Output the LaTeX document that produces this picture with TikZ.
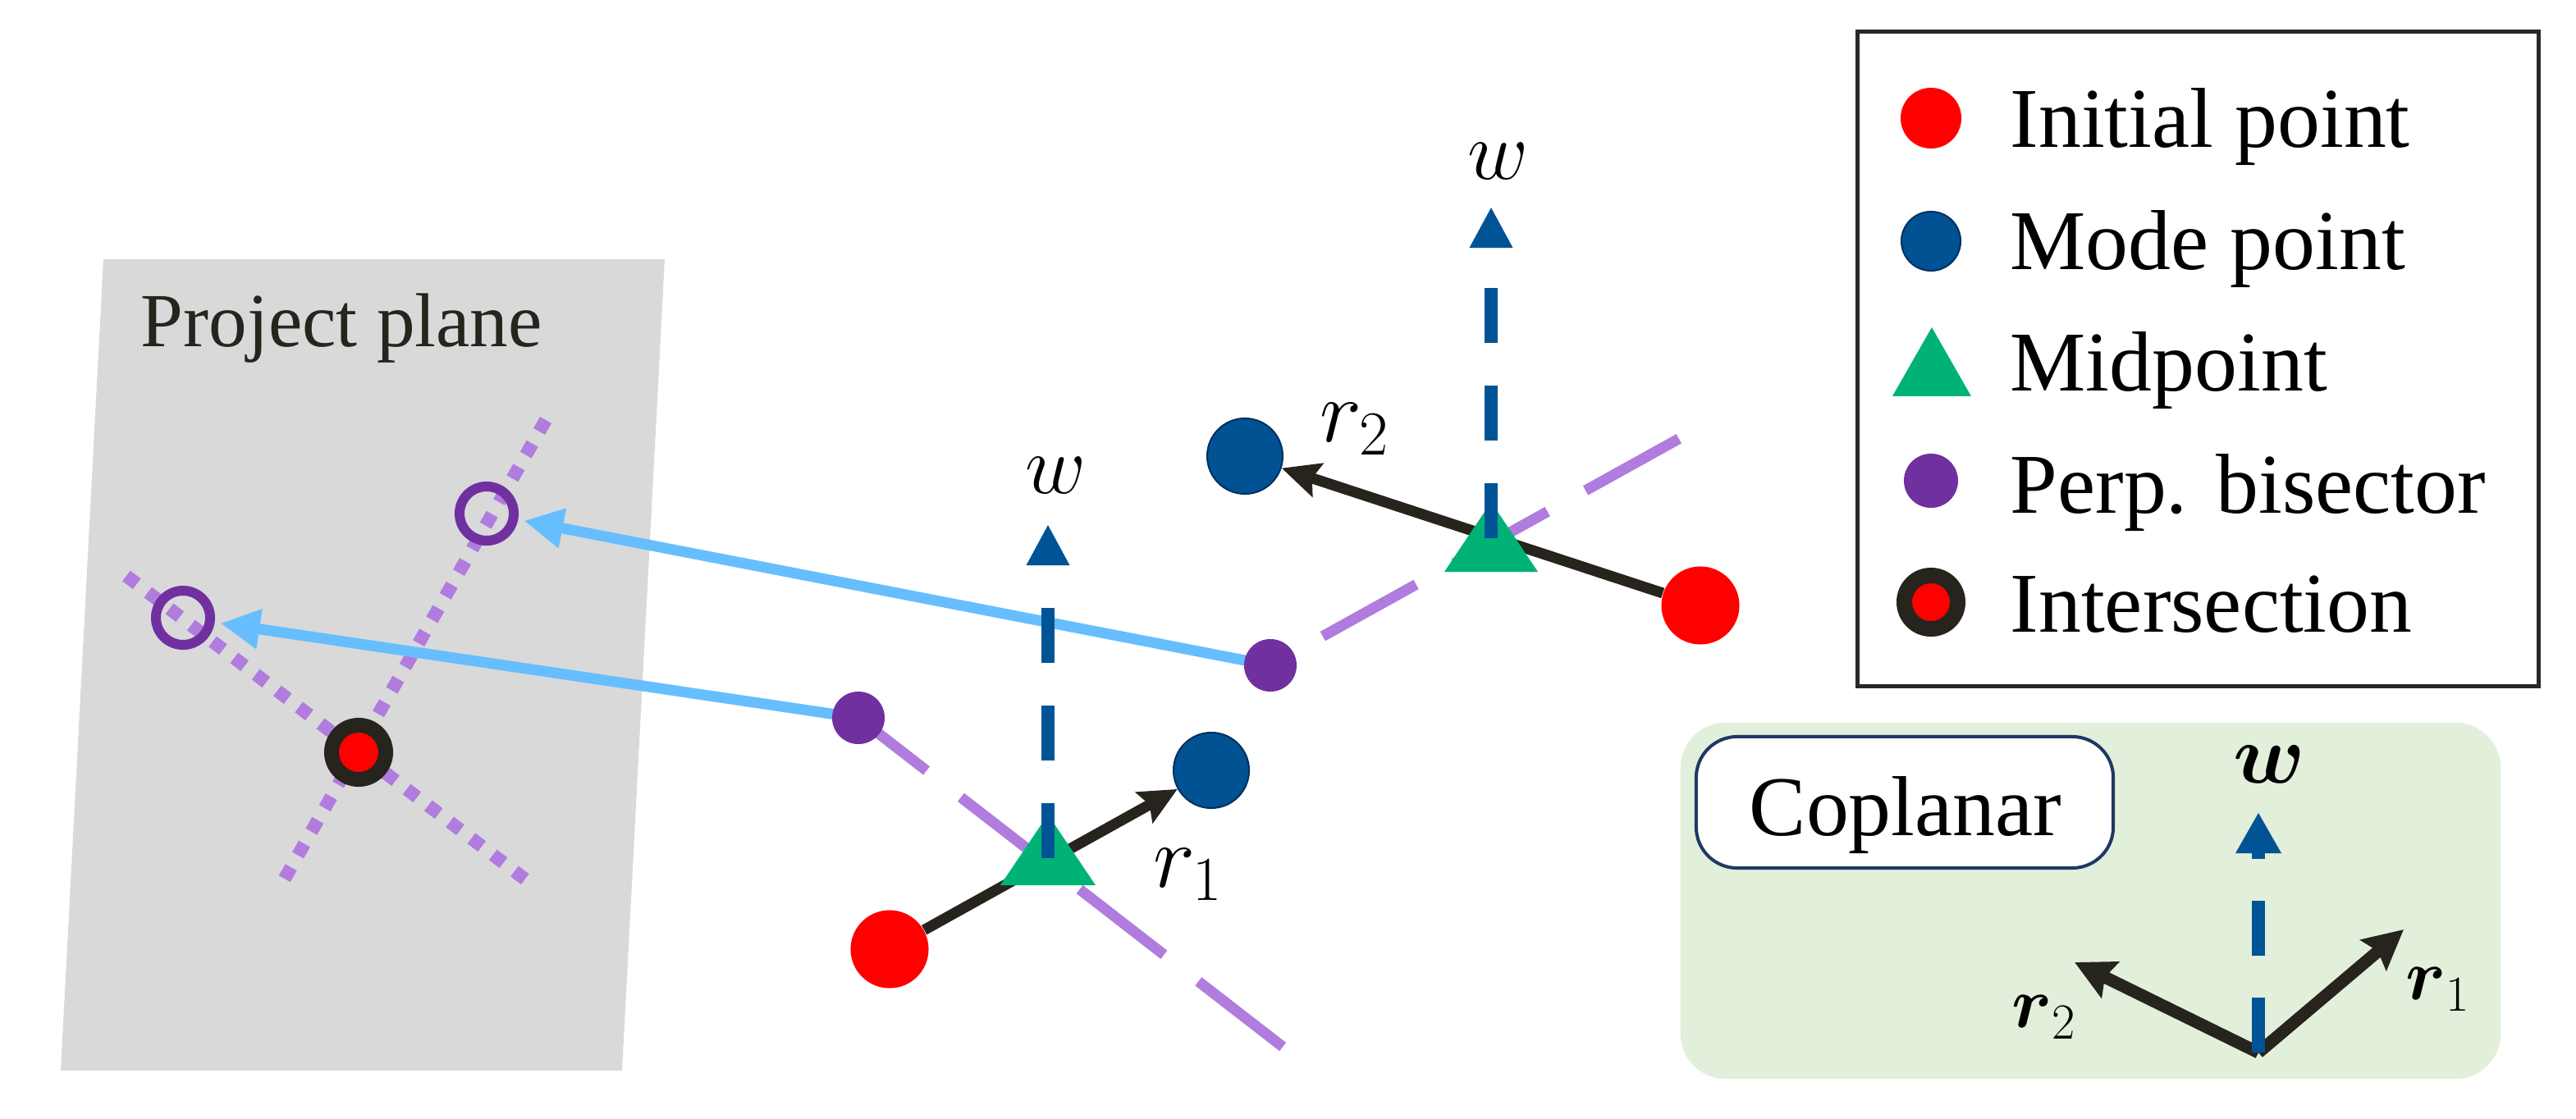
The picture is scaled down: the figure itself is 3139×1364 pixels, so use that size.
\RequirePackage{fix-cm}
\documentclass[tikz,border=0pt]{standalone}
\usepackage{amsmath}
\usepackage{fontspec}
\setmainfont{Liberation Serif}
\usetikzlibrary{arrows.meta,calc}

\definecolor{planegray}{RGB}{217,217,217}
\definecolor{lpurple}{RGB}{176,124,222}
\definecolor{dpurple}{RGB}{112,48,160}
\definecolor{lblue}{RGB}{102,190,255}
\definecolor{wblue}{RGB}{0,84,150}
\definecolor{modeblue}{RGB}{0,82,147}
\definecolor{modeedge}{RGB}{0,48,95}
\definecolor{initred}{RGB}{255,0,0}
\definecolor{midgreen}{RGB}{0,178,118}
\definecolor{inkblack}{RGB}{38,36,28}
\definecolor{panelgreen}{RGB}{226,239,218}
\definecolor{navy}{RGB}{31,56,100}
\definecolor{legendgray}{RGB}{40,40,40}

\newcommand\lgfont{\fontsize{29.5pt}{35pt}\selectfont}
\newcommand\ppfont{\fontsize{26.5pt}{32pt}\selectfont}
\newcommand\wfont{\fontsize{29pt}{34pt}\selectfont}
\newcommand\rfont{\fontsize{31pt}{36pt}\selectfont}
\newcommand\crfont{\fontsize{25pt}{30pt}\selectfont}

\begin{document}
\begin{tikzpicture}[x=0.01cm,y=-0.01cm,
  redpt/.style={circle,fill=initred,inner sep=0pt,minimum size=0.95cm},
  bluept/.style={circle,fill=modeblue,draw=modeedge,line width=0.02cm,inner sep=0pt,minimum size=0.92cm},
  pdot/.style={circle,fill=dpurple,inner sep=0pt,minimum size=0.64cm},
  hollowpt/.style={circle,draw=dpurple,line width=0.12cm,inner sep=0pt,minimum size=0.66cm},
  isectpt/.style={circle,fill=initred,draw=inkblack,line width=0.18cm,inner sep=0pt,minimum size=0.66cm},
  blkarrow/.style={draw=inkblack,line width=0.13cm,-{Stealth[length=0.46cm,width=0.42cm,inset=0.07cm]}},
  ltarrow/.style={draw=lblue,line width=0.13cm,-{Triangle[length=0.48cm,width=0.46cm]},shorten >=0.07cm},
  waxis/.style={draw=wblue,line width=0.16cm,dash pattern=on 0.67cm off 0.52cm,-{Triangle[length=0.5cm,width=0.49cm]}},
  bisect/.style={draw=lpurple,line width=0.13cm},
  dotline/.style={draw=lpurple,line width=0.16cm,dash pattern=on 0.16cm off 0.17cm},
  cvec/.style={draw=inkblack,line width=0.15cm,-{Stealth[length=0.48cm,width=0.48cm,inset=0.07cm]}},
  lgtext/.style={anchor=base west,font=\lgfont,text=black,inner sep=0pt}
]
\useasboundingbox (0,0) rectangle (3139,1364);

% ---------- project plane ----------
\fill[planegray] (126,316) -- (810,316) -- (758,1305) -- (74,1305) -- cycle;
\node[anchor=base west,font=\ppfont,text=inkblack,inner sep=0pt] (pp) at (171,423) {Project plane};

\coordinate (a1) at (154,702);
\coordinate (a2) at (652,1081);
\coordinate (b1) at (665,512);
\coordinate (b2) at (340,1083);
\draw[dotline] (a1) -- (a2);
\draw[dotline] (b1) -- (b2);

\node[hollowpt] (h1) at (223,753) {};
\node[hollowpt] (h2) at (593,626) {};
\node[isectpt] (x0) at (437,917) {};

% ---------- key coordinates ----------
\coordinate (p1) at (1046,875);
\coordinate (p2) at (1548,811);
\coordinate (e1) at (1567,1279);
\coordinate (e2) at (2049,533);

% perpendicular bisectors
\draw[bisect,dash pattern=on 1.3cm off 0.53cm,dash phase=0.25cm] (p1) -- (e1);
\draw[bisect,dash pattern=on 1.3cm off 0.53cm,dash phase=1.1cm] (p2) -- (e2);

% projection arrows
\draw[ltarrow] (p1) -- (h1);
\draw[ltarrow] (p2) -- (h2);

% ---------- pair 1 ----------
\node[redpt] (red1) at (1084,1157) {};
\node[bluept] (blue1) at (1476,939) {};
\draw[blkarrow] (red1) -- (blue1);
\coordinate (t1) at (1277,1050);
\fill[midgreen] ($(t1)+(-58,29)$) -- ($(t1)+(58,29)$) -- ($(t1)+(0,-57)$) -- cycle;
\coordinate (w1b) at (1277,1046);
\coordinate (w1t) at (1277,639);
\draw[waxis] (w1b) -- (w1t);
\node[font=\wfont,inner sep=0pt] (w1l) at (1287,580) {$w$};
\node[font=\rfont,inner sep=0pt] (r1l) at (1448,1066) {$r_1$};

% ---------- pair 2 ----------
\node[redpt] (red2) at (2072,738) {};
\node[bluept] (blue2) at (1517,556) {};
\draw[blkarrow] (red2) -- (blue2);
\coordinate (t2) at (1817,668);
\fill[midgreen] ($(t2)+(-57,29)$) -- ($(t2)+(57,29)$) -- ($(t2)+(0,-56)$) -- cycle;
\coordinate (w2b) at (1817,656);
\coordinate (w2t) at (1817,252);
\draw[waxis] (w2b) -- (w2t);
\node[font=\wfont,inner sep=0pt] (w2l) at (1826,197) {$w$};
\node[font=\rfont,inner sep=0pt] (r2l) at (1651,523) {$r_2$};

% purple bisector points on top
\node[pdot] (p1d) at (p1) {};
\node[pdot] (p2d) at (p2) {};

% ---------- legend ----------
\node[draw=legendgray,line width=0.05cm,fill=white,minimum width=8.29cm,minimum height=7.97cm,inner sep=0pt] (legend) at (2678.5,437.5) {};
\node[redpt,minimum size=0.74cm] (lr) at (2353,144) {};
\node[bluept,minimum size=0.72cm] (lb) at (2353,294) {};
\coordinate (lt) at (2354,455);
\fill[midgreen] ($(lt)+(-48,28)$) -- ($(lt)+(48,28)$) -- ($(lt)+(0,-56)$) -- cycle;
\node[pdot,minimum size=0.66cm] (lp) at (2353,586) {};
\node[isectpt,line width=0.19cm,minimum size=0.65cm] (li) at (2353,734) {};
\node[lgtext] (lt1) at (2449,180) {Initial point};
\node[lgtext] (lt2) at (2449,329) {Mode point};
\node[lgtext] (lt3) at (2449,477) {Midpoint};
\node[lgtext] (lt4) at (2449,625) {Perp. bisector};
\node[lgtext] (lt5) at (2449,770) {Intersection};

% ---------- coplanar panel ----------
\node[fill=panelgreen,rounded corners=0.55cm,minimum width=9.99cm,minimum height=4.34cm,inner sep=0pt] (panel) at (2547.5,1098) {};
\node[draw=navy,line width=0.04cm,fill=white,rounded corners=0.5cm,minimum width=5.08cm,minimum height=1.6cm,inner sep=0pt] (copbox) at (2321,978) {};
\node[anchor=base,font=\lgfont,inner sep=0pt] (cop) at (2322,1018) {Coplanar};

\coordinate (O) at (2752,1283);
\coordinate (c1) at (2929,1133);
\coordinate (c2) at (2528,1173);
\coordinate (cw) at (2752,990);
\draw[cvec] (O) -- (c1);
\draw[cvec] (O) -- (c2);
\draw[draw=wblue,line width=0.16cm,dash pattern=on 0.67cm off 0.51cm,-{Triangle[length=0.5cm,width=0.52cm]}] (O) -- (cw);
\node[font=\wfont,inner sep=0pt] (cwl) at (2765,932) {$\boldsymbol{w}$};
\node[font=\crfont,inner sep=0pt] (cr1) at (2971,1206) {$\boldsymbol{r}_1$};
\node[font=\crfont,inner sep=0pt] (cr2) at (2491,1240) {$\boldsymbol{r}_2$};
\end{tikzpicture}
\end{document}
